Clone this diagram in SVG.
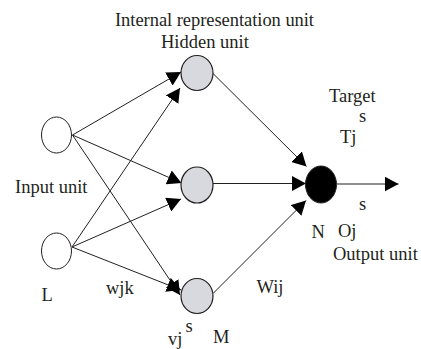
<svg xmlns="http://www.w3.org/2000/svg" width="421" height="349" viewBox="0 0 421 349">
<style>
text { font-family: "Liberation Serif", "Times New Roman", serif; font-size: 18.5px; fill: #231f20; }
.in { fill: #ffffff; stroke: #231f20; stroke-width: 1; }
.hid { fill: #d8d9de; stroke: #231f20; stroke-width: 1.2; }
.out { fill: #000000; stroke: #231f20; stroke-width: 1; }
.edge { stroke: #231f20; stroke-width: 1; fill: none; marker-end: url(#ah); }
</style>
<defs>
<marker id="ah" markerUnits="userSpaceOnUse" markerWidth="15" markerHeight="15" refX="14" refY="7.5" orient="auto">
<path d="M0,0 L14,7.5 L0,15 z" fill="#000000"/>
</marker>
</defs>
<rect width="421" height="349" fill="#ffffff"/>
<g id="connectors">
<line class="edge" x1="72.5" y1="135" x2="181" y2="72"/>
<line class="edge" x1="72.5" y1="135" x2="181.5" y2="183"/>
<line class="edge" x1="72.5" y1="135" x2="180" y2="295"/>
<line class="edge" x1="72" y1="247" x2="180" y2="88"/>
<line class="edge" x1="72" y1="247" x2="181" y2="199"/>
<line class="edge" x1="72" y1="247" x2="181" y2="290"/>
<line class="edge" x1="213" y1="73.5" x2="306.5" y2="166.5"/>
<line class="edge" x1="213" y1="183.5" x2="306" y2="183.5"/>
<line class="edge" x1="213" y1="293.5" x2="306" y2="200.5"/>
<line class="edge" x1="337" y1="184" x2="398.5" y2="184"/>
</g>
<g id="input1"><ellipse class="in" cx="56.5" cy="135" rx="15" ry="18"/></g>
<g id="input2"><ellipse class="in" cx="56.5" cy="251" rx="15" ry="18"/></g>
<g id="hidden1"><ellipse class="hid" cx="197" cy="73" rx="16" ry="17.5"/></g>
<g id="hidden2"><ellipse class="hid" cx="197" cy="185" rx="16" ry="18"/></g>
<g id="hidden3"><ellipse class="hid" cx="197" cy="296" rx="16" ry="17.5"/></g>
<g id="output"><ellipse class="out" cx="321" cy="184.5" rx="15.5" ry="18.5"/></g>
<g id="labels">
<text x="115" y="26" textLength="199">Internal representation unit</text>
<text x="161" y="48">Hidden unit</text>
<text x="329" y="102">Target</text>
<text x="359" y="122">s</text>
<text x="340" y="143">Tj</text>
<text x="15" y="193">Input unit</text>
<text x="359" y="210">s</text>
<text x="338" y="237">Oj</text>
<text x="311.5" y="238">N</text>
<text x="333" y="260">Output unit</text>
<text x="256.5" y="293">Wij</text>
<text x="106" y="294">wjk</text>
<text x="41.5" y="301">L</text>
<text x="185.5" y="332">s</text>
<text x="168" y="345">vj</text>
<text x="213" y="343">M</text>
</g>
</svg>
